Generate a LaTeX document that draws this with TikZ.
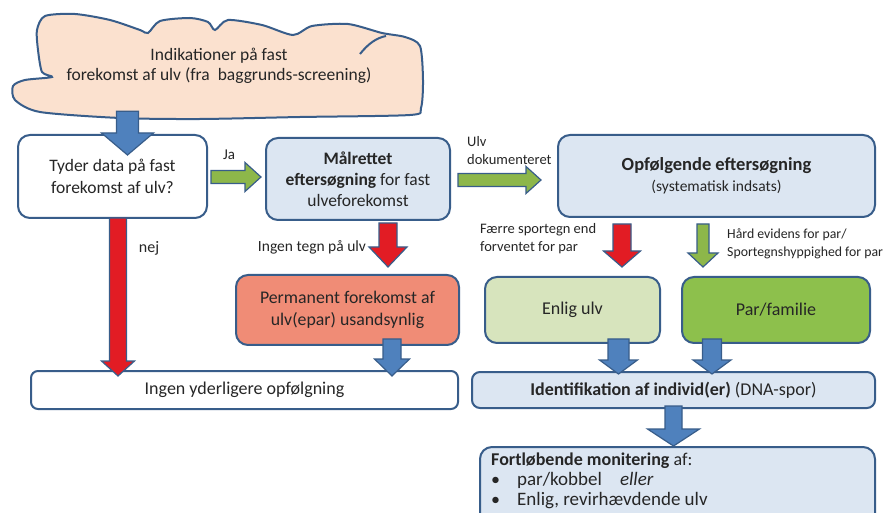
\documentclass[tikz,border=0pt]{standalone}
\usepackage{fontspec}
\setmainfont{Carlito}
\usepackage{xcolor}
\usepackage{tikz}
\usetikzlibrary{positioning,calc}

\definecolor{frameBlue}{RGB}{56,93,138}
\definecolor{boxBlue}{RGB}{220,230,242}
\definecolor{cloudPeach}{RGB}{251,225,207}
\definecolor{permSalmon}{RGB}{240,140,118}
\definecolor{paleGreen}{RGB}{215,228,189}
\definecolor{leafGreen}{RGB}{141,192,76}
\definecolor{arrowBlue}{RGB}{79,129,189}
\definecolor{arrowRed}{RGB}{226,28,36}
\definecolor{arrowGreen}{RGB}{141,183,74}
\definecolor{textGray}{RGB}{38,38,38}

% block arrow: fill, from, to, shaft width, head width, head length
\newcommand{\blockarrow}[6]{%
  \coordinate (ba-s) at #2;
  \coordinate (ba-e) at #3;
  \coordinate (ba-h) at ($(ba-e)!#6!(ba-s)$);
  \filldraw[arrowLine, fill=#1]
    ($(ba-s)!#4/2!90:(ba-e)$) -- ($(ba-h)!#4/2!90:(ba-e)$)
    -- ($(ba-h)!#5/2!90:(ba-e)$) -- (ba-e)
    -- ($(ba-h)!#5/2!-90:(ba-e)$) -- ($(ba-h)!#4/2!-90:(ba-e)$)
    -- ($(ba-s)!#4/2!-90:(ba-e)$) -- cycle;
}

\begin{document}
\begin{tikzpicture}[x=1pt, y=-1pt,
  flowBox/.style={draw=frameBlue, line width=2pt, rounded corners=12pt,
                  align=center, text=textGray, inner sep=0pt,
                  font=\fontsize{17.5}{21}\selectfont},
  smallLabel/.style={font=\fontsize{14.5}{18}\selectfont, text=textGray,
                     align=left, inner sep=0pt},
  arrowLine/.style={draw=frameBlue, line width=1.2pt, line join=miter}
]
  \useasboundingbox[fill=white] (0,0) rectangle (887,513);

  % cloud
  \draw[frameBlue, line width=2pt, fill=cloudPeach]
    plot[smooth cycle, tension=0.45] coordinates {
      (45,16) (75,14) (110,20) (140,30) (148,33) (160,21) (190,18) (208,22)
      (215,30) (228,20) (262,25) (293,35) (312,26) (348,24) (382,33)
      (405,37) (420,46) (423,80) (421,108) (410,115) (300,117) (200,119)
      (120,118) (40,112) (15,100) (13,86) (25,80) (52,77) (42,72) (38,50)
      (37,30)};
  \draw[frameBlue, line width=2pt] (360,54) .. controls (368,44) and (376,38) .. (386,36);
  \node[align=center, text=textGray, font=\fontsize{17.5}{20}\selectfont,
        minimum width=408pt, minimum height=102pt, inner sep=0pt] (cloud) at (219,66)
    {Indikationer på fast\\forekomst af ulv (fra\ \ baggrunds-screening)};

  % boxes
  \node[flowBox, fill=white, minimum width=189pt, minimum height=83pt,
        font=\fontsize{17.5}{22}\selectfont] (tyder) at (112.5,176.5)
    {Tyder data på fast\\forekomst af ulv?};
  \node[flowBox, fill=boxBlue, minimum width=184pt, minimum height=82pt] (maal) at (358,179)
    {\textbf{Målrettet}\\\textbf{eftersøgning} for fast\\ulveforekomst};
  \node[flowBox, fill=boxBlue, minimum width=317pt, minimum height=82pt] (opf) at (716.5,176)
    {\textbf{\fontsize{18.5}{20}\selectfont Opfølgende eftersøgning}\\
     {\fontsize{15.5}{20}\selectfont (systematisk indsats)}};
  \node[flowBox, fill=permSalmon, minimum width=223pt, minimum height=70pt,
        font=\fontsize{17.8}{22}\selectfont] (perm) at (347.5,310)
    {Permanent forekomst af\\ulv(epar) usandsynlig};
  \node[flowBox, fill=white, rounded corners=7pt, minimum width=427pt,
        minimum height=38pt, font=\fontsize{18}{20}\selectfont] (ingen) at (244.5,390)
    {Ingen yderligere opfølgning};
  \node[flowBox, fill=paleGreen, minimum width=175pt, minimum height=66pt,
        font=\fontsize{18}{20}\selectfont] (enlig) at (572.5,310) {Enlig ulv};
  \node[flowBox, fill=leafGreen, minimum width=188pt, minimum height=66pt,
        font=\fontsize{18}{20}\selectfont] (par) at (776,310) {Par/familie};
  \node[flowBox, fill=boxBlue, rounded corners=8pt, minimum width=403pt,
        minimum height=36pt, font=\fontsize{18}{20}\selectfont] (ident) at (673.5,390)
    {\textbf{Identifikation af individ(er)} (DNA-spor)};
  \node[flowBox, fill=boxBlue, minimum width=395pt, minimum height=83pt] (fortl) at (677.5,488.5) {};
  \node[anchor=north west, align=left, text=textGray, inner sep=0pt,
        font=\fontsize{18}{20}\selectfont] (fortlText) at ($(fortl.north west)+(12,7)$)
    {\textbf{Fortløbende monitering} af:\\
     \textbullet\hspace{17pt}{\fontsize{19}{20}\selectfont par/kobbel\hspace{18pt}\textit{eller}}\\
     \textbullet\hspace{17pt}{\fontsize{19}{20}\selectfont Enlig, revirhævdende ulv}};

  % labels
  \node[smallLabel, font=\fontsize{15}{18}\selectfont] (ja) at (229,155) {Ja};
  \node[smallLabel, font=\fontsize{16}{18}\selectfont] (nej) at (149,248) {nej};
  \node[smallLabel, font=\fontsize{15.5}{18}\selectfont] (ingenTegn) at (312,247) {Ingen tegn på ulv};
  \node[smallLabel, anchor=west] (ulvDok) at (467,151) {Ulv\\dokumenteret};
  \node[smallLabel, anchor=west] (faerre) at (480,239) {Færre sportegn end\\forventet for par};
  \node[smallLabel, anchor=west, font=\fontsize{13.8}{18}\selectfont] (haard) at (727,244)
    {Hård evidens for par/\\Sportegnshyppighed for par};

  % arrows
  \blockarrow{arrowBlue}{($(cloud.south -| tyder.north)+(15,-6)$)}{($(tyder.north)+(15,21)$)}{22pt}{52pt}{22pt}
  \blockarrow{arrowGreen}{($(tyder.east)+(3,0.5)$)}{($(maal.west |- tyder.east)+(-4,0.5)$)}{13pt}{29pt}{16pt}
  \blockarrow{arrowGreen}{($(maal.east)+(7,1)$)}{($(opf.west)+(-16,4)$)}{13pt}{27pt}{15pt}
  \blockarrow{arrowRed}{($(tyder.south)+(5.5,-1)$)}{($(ingen.north -| tyder.south)+(5.5,6)$)}{17pt}{33pt}{15pt}
  \blockarrow{arrowRed}{($(maal.south)+(30,2)$)}{($(perm.north -| maal.south)+(30,-7)$)}{18pt}{38pt}{20pt}
  \blockarrow{arrowBlue}{($(perm.south)+(44.5,-7)$)}{($(ingen.north -| perm.south)+(44.5,6)$)}{18pt}{35pt}{17pt}
  \blockarrow{arrowRed}{($(opf.south)+(-94.5,6)$)}{($(enlig.north)+(49.5,-9)$)}{18pt}{37pt}{16pt}
  \blockarrow{arrowGreen}{($(opf.south)+(-13.5,6)$)}{($(par.north)+(-73,-9)$)}{12pt}{30pt}{14pt}
  \blockarrow{arrowBlue}{($(enlig.south)+(46,-5)$)}{($(ident.north -| enlig.south)+(46,3)$)}{21pt}{38pt}{14pt}
  \blockarrow{arrowBlue}{($(par.south)+(-64,-5)$)}{($(ident.north -| par.south)+(-64,3)$)}{19pt}{38pt}{14pt}
  \blockarrow{arrowBlue}{($(ident.south)+(0,-3)$)}{($(fortl.north -| ident.south)+(0,0)$)}{17pt}{52pt}{17pt}
\end{tikzpicture}
\end{document}
